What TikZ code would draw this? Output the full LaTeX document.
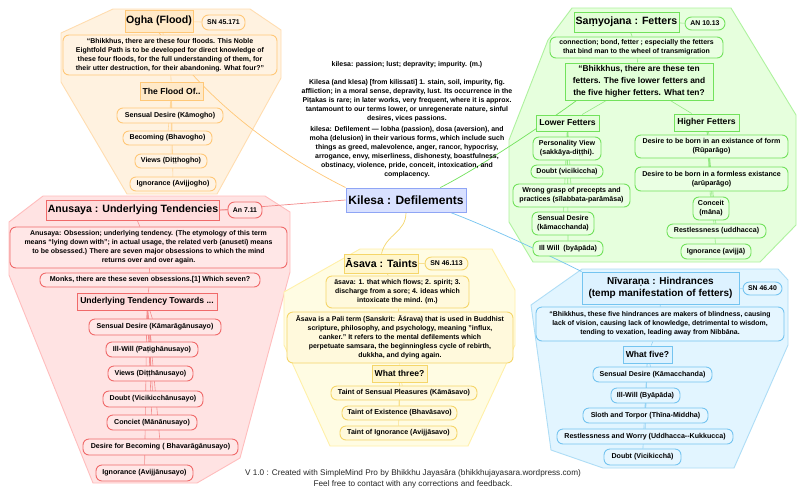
\documentclass[tikz,border=0pt]{standalone}
\usepackage{fontspec}
\setmainfont{Liberation Sans}
\usetikzlibrary{calc}
\definecolor{ogP}{HTML}{FFF2E0}\definecolor{ogL}{HTML}{FFDDB0}\definecolor{ogN}{HTML}{FFF3E3}\definecolor{ogT}{HTML}{FFE9C8}\definecolor{ogB}{HTML}{FFC878}
\definecolor{anP}{HTML}{FFE3E3}\definecolor{anL}{HTML}{FFBDBD}\definecolor{anN}{HTML}{FFE7E7}\definecolor{anT}{HTML}{FFDCDC}\definecolor{anB}{HTML}{F06A6A}
\definecolor{smP}{HTML}{E6FFDD}\definecolor{smL}{HTML}{AEF29E}\definecolor{smN}{HTML}{EAFFE3}\definecolor{smT}{HTML}{E2FFD8}\definecolor{smB}{HTML}{72E25C}
\definecolor{nvP}{HTML}{E2F5FF}\definecolor{nvL}{HTML}{AEDDF6}\definecolor{nvN}{HTML}{E5F6FF}\definecolor{nvT}{HTML}{DDF2FF}\definecolor{nvB}{HTML}{74C4F0}
\definecolor{asP}{HTML}{FFFCE3}\definecolor{asL}{HTML}{FFF0A8}\definecolor{asN}{HTML}{FFF9DC}\definecolor{asT}{HTML}{FFF6CC}\definecolor{asB}{HTML}{F5D66A}
\definecolor{kiF}{HTML}{D9E1FF}\definecolor{kiB}{HTML}{8FA5F5}
\pgfdeclarelayer{bg}\pgfdeclarelayer{mid}\pgfsetlayers{bg,mid,main}
\newcommand\fT{\fontsize{10.6}{12.3}\selectfont\bfseries}
\newcommand\fQ{\fontsize{8.4}{12}\selectfont\bfseries}
\newcommand\fS{\fontsize{8.6}{10}\selectfont\bfseries}
\newcommand\fB{\fontsize{6.95}{9}\selectfont\bfseries}
\newcommand\fI{\fontsize{7.1}{9}\selectfont\bfseries}
\newcommand\fP{\fontsize{6.9}{8}\selectfont\bfseries}
\newcommand\bx[7]{\node[#6,minimum width={#4-#2},minimum height={#5-#3}] (#1) at ({(#2+#4)/2},{(#3+#5)/2}) {#7};}
\tikzset{
  base/.style={align=center,inner sep=1pt,line width=0.9pt,text=black},
  rbox/.style={base,fill=#1N,draw=#1B,rounded corners=6pt,font=\fI},
  bbox/.style={base,fill=#1N,draw=#1B,rounded corners=6pt,font=\fB},
  pill/.style={base,fill=#1N,draw=#1B,rounded corners=6.5pt,font=\fP},
  sbox/.style={base,fill=#1T,draw=#1B,line width=1pt,font=\fS},
  tbox/.style={base,fill=#1T,draw=#1B,line width=1pt,font=\fT},
  grp/.style={fill=#1P,draw=#1L,line width=0.9pt,line join=round},
  tr/.style={draw=#1B!75,line width=0.6pt},
  ml/.style={draw=#1,line width=0.7pt},
  free/.style={align=center,inner sep=0pt,font=\fB},
}
\begin{document}
\begin{tikzpicture}[x=1pt,y=-1pt]
\useasboundingbox (0,0) rectangle (800,499);
% ---------- group backgrounds
\begin{pgfonlayer}{bg}
\fill[white] (0,0) rectangle (800,499);
\draw[grp=og] (113,9) -- (250,9) -- (281,30) -- (281,78) -- (217,194) -- (127,194) -- (61,82) -- (61,33) -- cycle;
\draw[grp=an] (43,196) -- (265,196) -- (290,212) -- (290,272) -- (240,458) -- (197,483) -- (93,483) -- (9,275) -- (9,222) -- cycle;
\draw[grp=as] (360,249) -- (492,249) -- (515,290) -- (515,345) -- (468,446) -- (330,446) -- (284,345) -- (284,292) -- cycle;
\draw[grp=sm] (572,8) -- (731,8) -- (796,115) -- (796,225) -- (760,262) -- (533,262) -- (509,222) -- (509,140) -- (548,40) -- cycle;
\draw[grp=nv] (582,269) -- (778,269) -- (788,280) -- (788,345) -- (734,468) -- (603,468) -- (551,450) -- (531,305) -- cycle;
\end{pgfonlayer}
% ---------- center
\bx{kil}{346}{188}{466}{212}{base,fill=kiF,draw=kiB,line width=1pt,font=\fontsize{12}{13}\selectfont\bfseries}{Kilesa : Defilements}
\node[free] (ca) at (407,65) {kilesa: passion; lust; depravity; impurity. (m.)};
\node[free] (cb) at (407,101) {Kilesa (and klesa) [from kilissati] 1. stain, soil, impurity, fig.\\affliction; in a moral sense, depravity, lust. Its occurrence in the\\Piṭakas is rare; in later works, very frequent, where it is approx.\\tantamount to our terms lower, or unregenerate nature, sinful\\desires, vices passions.};
\node[free] (cc) at (407,152.3) {kilesa: Defilement — lobha (passion), dosa (aversion), and\\moha (delusion) in their various forms, which include such\\things as greed, malevolence, anger, rancor, hypocrisy,\\arrogance, envy, miserliness, dishonesty, boastfulness,\\obstinacy, violence, pride, conceit, intoxication, and\\complacency.};
% ---------- Ogha
\bx{ogT}{125}{10}{193}{32}{tbox=og}{Ogha (Flood)}
\bx{ogR}{202}{15}{245}{30}{pill=og}{SN 45.171}
\bx{ogQ}{63}{35}{277}{75}{bbox=og}{“Bhikkhus, there are these four floods. This Noble\\Eightfold Path is to be developed for direct knowledge of\\these four floods, for the full understanding of them, for\\their utter destruction, for their abandoning. What four?”}
\bx{ogS}{140}{82}{203}{100}{sbox=og}{The Flood Of..}
\bx{og1}{117}{108}{223}{123}{rbox=og}{Sensual Desire (Kāmogho)}
\bx{og2}{123}{131}{212}{145}{rbox=og}{Becoming (Bhavogho)}
\bx{og3}{135}{154}{207}{168}{rbox=og}{Views (Diṭṭhogho)}
\bx{og4}{130}{177}{216}{191}{rbox=og}{Ignorance (Avijjogho)}
% ---------- Anusaya
\bx{anT}{48}{200}{218}{220}{tbox=an}{Anusaya : Underlying Tendencies}
\bx{anR}{228}{202}{262}{218}{pill=an}{An 7.11}
\bx{anQ}{10}{227}{287}{268}{bbox=an}{Anusaya: Obsession; underlying tendency. (The etymology of this term\\means “lying down with”; in actual usage, the related verb (anuseti) means\\to be obsessed.) There are seven major obsessions to which the mind\\returns over and over again.}
\bx{anM}{40}{273}{260}{287}{rbox=an}{Monks, there are these seven obsessions.[1] Which seven?}
\bx{anS}{77}{293}{217}{310}{sbox=an}{Underlying Tendency Towards ...}
\bx{an1}{89}{319}{221}{335}{rbox=an}{Sensual Desire (Kāmarāgānusayo)}
\bx{an2}{106}{342}{198}{357}{rbox=an}{Ill-Will (Paṭighānusayo)}
\bx{an3}{108}{366}{193}{381}{rbox=an}{Views (Diṭṭhānusayo)}
\bx{an4}{103}{391}{203}{407}{rbox=an}{Doubt (Vicikicchānusayo)}
\bx{an5}{107}{415}{197}{430}{rbox=an}{Conciet (Mānānusayo)}
\bx{an6}{83}{439}{238}{455}{rbox=an}{Desire for Becoming ( Bhavarāgānusayo)}
\bx{an7}{96}{465}{193}{481}{rbox=an}{Ignorance (Avijjānusayo)}
% ---------- Samyojana
\bx{smT}{574}{12}{679}{32}{tbox=sm}{Saṃyojana : Fetters}
\bx{smR}{685}{17}{725}{30}{pill=sm}{AN 10.13}
\bx{smC}{550}{37}{723}{58}{bbox=sm}{connection; bond, fetter ; especially the fetters\\that bind man to the wheel of transmigration}
\bx{smQ}{565}{63}{713}{100}{sbox=sm,font=\fQ}{“Bhikkhus, there are these ten\\fetters. The five lower fetters and\\the five higher fetters. What ten?}
\bx{lowF}{536}{115}{599}{131}{sbox=sm}{Lower Fetters}
\bx{higF}{674}{114}{739}{131}{sbox=sm}{Higher Fetters}
\bx{l1}{533}{137}{601}{160}{rbox=sm}{Personality View\\(sakkāya-diṭṭhi).}
\bx{l2}{531}{165}{603}{178}{rbox=sm}{Doubt (vicikiccha)}
\bx{l3}{513}{184}{630}{207}{rbox=sm}{Wrong grasp of precepts and\\practices (sīlabbata-parāmāsa)}
\bx{l4}{532}{212}{594}{235}{rbox=sm}{Sensual Desire\\(kāmacchanda)}
\bx{l5}{533}{241}{603}{256}{rbox=sm}{Ill Will~ (byāpāda)}
\bx{h1}{635}{135}{788}{158}{rbox=sm}{Desire to be born in an existance of form\\(Rūparāgo)}
\bx{h2}{635}{167}{788}{191}{rbox=sm}{Desire to be born in a formless existance\\(arūparāgo)}
\bx{h3}{693}{197}{729}{220}{rbox=sm}{Conceit\\(māna)}
\bx{h4}{667}{224}{766}{238}{rbox=sm}{Restlessness (uddhacca)}
\bx{h5}{681}{244}{751}{259}{rbox=sm}{Ignorance (avijjā)}
% ---------- Nivarana
\bx{nvT}{582}{272}{739}{304}{tbox=nv,font=\fontsize{10}{12.3}\selectfont\bfseries}{Nīvaraṇa : Hindrances\\(temp manifestation of fetters)}
\bx{nvR}{743}{282}{782}{295}{pill=nv}{SN 46.40}
\bx{nvQ}{536}{307}{784}{341}{bbox=nv}{“Bhikkhus, these five hindrances are makers of blindness, causing\\lack of vision, causing lack of knowledge, detrimental to wisdom,\\tending to vexation, leading away from Nibbāna.}
\bx{nvS}{623}{346}{672}{363}{sbox=nv}{What five?}
\bx{n1}{593}{367}{712}{382}{rbox=nv}{Sensual Desire (Kāmacchanda)}
\bx{n2}{611}{388}{680}{403}{rbox=nv}{Ill-Will (Byāpāda)}
\bx{n3}{583}{408}{708}{423}{rbox=nv}{Sloth and Torpor (Thīna-Middha)}
\bx{n4}{557}{429}{733}{444}{rbox=nv}{Restlessness and Worry (Uddhacca-{}-Kukkucca)}
\bx{n5}{604}{449}{681}{465}{rbox=nv}{Doubt (Vicikicchā)}
% ---------- Asava
\bx{asT}{345}{254}{418}{273}{tbox=as}{Āsava : Taints}
\bx{asR}{425}{257}{468}{270}{pill=as}{SN 46.113}
\bx{asD}{326}{276}{469}{308}{bbox=as}{āsava: 1. that which flows; 2. spirit; 3.\\discharge from a sore; 4. ideas which\\intoxicate the mind. (m.)}
\bx{asQ}{287}{312}{513}{363}{bbox=as}{Āsava is a Pali term (Sanskrit: Āśrava) that is used in Buddhist\\scripture, philosophy, and psychology, meaning "influx,\\canker." It refers to the mental defilements which\\perpetuate samsara, the beginningless cycle of rebirth,\\dukkha, and dying again.}
\bx{asS}{372}{365}{427}{382}{sbox=as}{What three?}
\bx{a1}{331}{386}{477}{400}{rbox=as}{Taint of Sensual Pleasures (Kāmāsavo)}
\bx{a2}{342}{406}{457}{420}{rbox=as}{Taint of Existence (Bhavāsavo)}
\bx{a3}{340}{426}{457}{440}{rbox=as}{Taint of Ignorance (Avijjāsavo)}
% ---------- footer
\node[inner sep=0pt,text=black!85,font=\fontsize{8.2}{9}\selectfont] (ft1) at (413,473) {V 1.0 : Created with SimpleMind Pro by Bhikkhu Jayasāra (bhikkhujayasara.wordpress.com)};
\node[inner sep=0pt,text=black!85,font=\fontsize{8.2}{9}\selectfont] (ft2) at (413,484) {Feel free to contact with any corrections and feedback.};
% ---------- connectors
\begin{pgfonlayer}{mid}
\draw[ml=ogB] (kil.north west) .. controls +(-50,-25) and +(55,80) .. (ogT.south);
\draw[ml=anB!80] (kil.west) -- (anT.east);
\draw[ml=smB] (kil.20) .. controls +(40,-20) and +(-20,15) .. ($(smQ.south west)+(12,0)$);
\draw[ml=nvB] ($(kil.south east)+(-16,0)$) .. controls +(40,15) and +(-30,-15) .. (nvT.north west);
\draw[ml=asB] (kil.south) .. controls +(0,20) and +(5,-20) .. (asT.north);
\draw[tr=og] (ogT)--(ogR) (ogT)--(ogQ) (ogQ)--(ogS) (ogS)--(og1) (ogS)--(og2) (ogS)--(og3) (ogS)--(og4);
\draw[tr=an] (anT)--(anR) (anT)--(anQ) (anQ)--(anM) (anM)--(anS) (anS)--(an1) (anS)--(an2) (anS)--(an3) (anS)--(an4) (anS)--(an5) (anS)--(an6) (anS)--(an7);
\draw[tr=sm] (smT)--(smR) (smT)--(smC) (smC)--(smQ) (smQ)--(lowF) (smQ)--(higF) (lowF)--(l1) (lowF)--(l2) (lowF)--(l3) (lowF)--(l4) (lowF)--(l5) (higF)--(h1) (higF)--(h2) (higF)--(h3) (higF)--(h4) (higF)--(h5);
\draw[tr=nv] (nvT)--(nvR) (nvT)--(nvQ) (nvQ)--(nvS) (nvS)--(n1) (nvS)--(n2) (nvS)--(n3) (nvS)--(n4) (nvS)--(n5);
\draw[tr=as] (asT)--(asR) (asT)--(asD) (asD)--(asQ) (asQ)--(asS) (asS)--(a1) (asS)--(a2) (asS)--(a3);
\end{pgfonlayer}
\end{tikzpicture}
\end{document}
